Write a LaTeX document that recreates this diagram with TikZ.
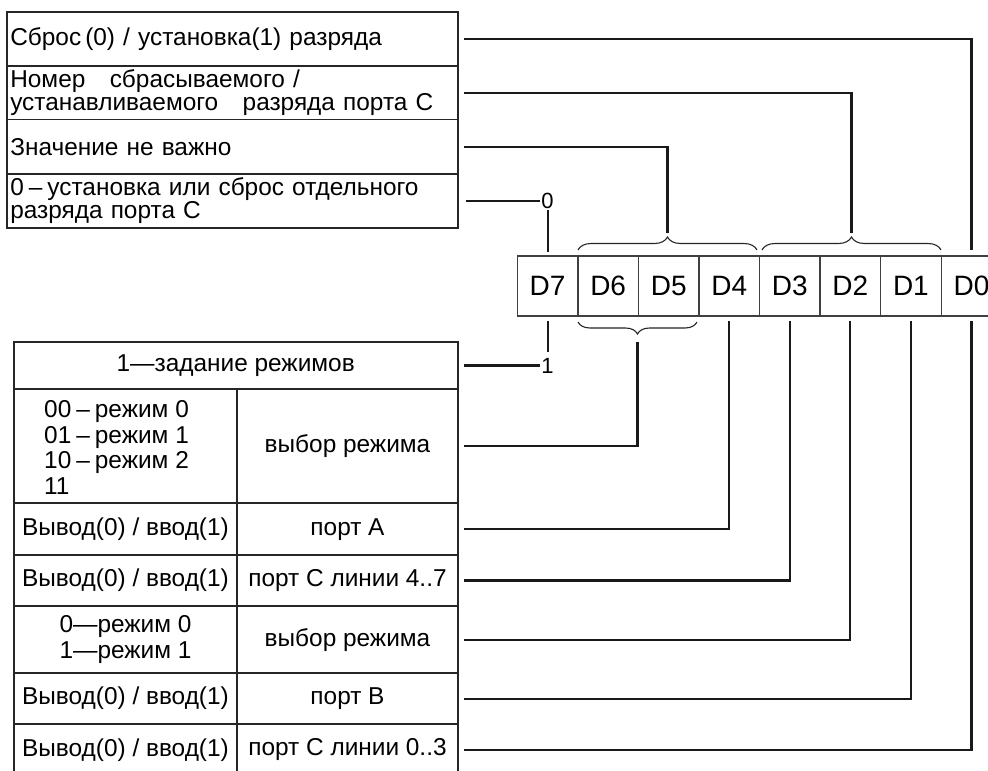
\documentclass[tikz,border=0pt]{standalone}
\usepackage{fontspec}
\setmainfont{Liberation Sans}
\usetikzlibrary{decorations.pathreplacing,calc}
\newcommand{\sdash}{\kern5pt–\kern5pt}
\begin{document}
\begin{tikzpicture}[x=1pt,y=-1pt,
  txt/.style={font=\fontsize{24.4}{23}\selectfont},
  cellbox/.style={draw=black!85, line width=1.7pt, inner sep=0pt, txt, align=center},
  toprow/.style={cellbox, text width=445pt, inner xsep=3pt, align=left},
  bitcell/.style={draw=black!75, line width=1.3pt, minimum width=60.55pt, minimum height=60pt, inner sep=0pt, font=\fontsize{28}{28}\selectfont},
  conn/.style={draw=black!90, line width=2.2pt},
  bitlbl/.style={inner sep=1pt, font=\fontsize{22}{22}\selectfont},
  bracedec/.style={draw=black!85, line width=1.1pt, decorate, decoration={brace, amplitude=#1}},
]
\useasboundingbox (0,0) rectangle (988,771);
\fill[white] (0,0) rectangle (988,771);
\clip (0,0) rectangle (988,771);

% top table
\node[toprow, minimum height=53.7pt] (t1) at (232.8,38.85) {Сброс\,(0) / установка(1) разряда};
\node[toprow, minimum height=53.8pt] (t2) at (232.8,92.6) {Номер\ \ \ сбрасываемого /\\устанавливаемого\ \ \ разряда порта С};
\node[toprow, minimum height=54.5pt] (t3) at (232.8,146.75) {Значение не важно};
\node[toprow, minimum height=54pt] (t4) at (232.8,201) {0\sdash установка или сброс отдельного\\разряда порта С};

% bottom table
\node[cellbox, minimum width=444pt, minimum height=47.6pt] (b1) at (235.7,365.5) {1—задание режимов};
\node[cellbox, minimum width=223.6pt, minimum height=114pt] (l2) at (125.5,446.3) {};
\node[anchor=west, align=left, inner sep=0pt, font=\fontsize{24.4}{25.7}\selectfont] (l2t) at (44,447.5) {00\sdash режим 0\\01\sdash режим 1\\10\sdash режим 2\\11};
\node[cellbox, minimum width=220.4pt, minimum height=114pt] (r2) at (347.5,446.3) {выбор режима};
\node[cellbox, minimum width=223.6pt, minimum height=51.7pt] (l3) at (125.5,529.15) {Вывод(0) / ввод(1)};
\node[cellbox, minimum width=220.4pt, minimum height=51.7pt] (r3) at (347.5,529.15) {порт А};
\node[cellbox, minimum width=223.6pt, minimum height=51pt] (l4) at (125.5,580.5) {Вывод(0) / ввод(1)};
\node[cellbox, minimum width=220.4pt, minimum height=51pt] (r4) at (347.5,580.5) {порт С линии 4..7};
\node[cellbox, minimum width=223.6pt, minimum height=67.3pt, font=\fontsize{24.4}{26.7}\selectfont] (l5) at (125.5,639.65) {0—режим 0\\1—режим 1};
\node[cellbox, minimum width=220.4pt, minimum height=67.3pt] (r5) at (347.5,639.65) {выбор режима};
\node[cellbox, minimum width=223.6pt, minimum height=50.7pt] (l6) at (125.5,698.65) {Вывод(0) / ввод(1)};
\node[cellbox, minimum width=220.4pt, minimum height=50.7pt] (r6) at (347.5,698.65) {порт В};
\node[cellbox, minimum width=223.6pt, minimum height=52pt] (l7) at (125.5,750) {Вывод(0) / ввод(1)};
\node[cellbox, minimum width=220.4pt, minimum height=52pt] (r7) at (347.5,750) {порт С линии 0..3};

% bit cells
\foreach \n [count=\i from 0] in {7,6,5,4,3,2,1,0}
  \node[bitcell] (d\n) at ({547.6+60.55*\i},286) {D\n};

% braces
\draw[bracedec=13pt] (578,250) -- (757,250);
\draw[bracedec=13pt] (762,250) -- (941,250);
\draw[bracedec=12pt] (697,322) -- (578,322);
\coordinate (tipA) at (667.5,233);
\coordinate (tipB) at (851.5,233);
\coordinate (tipC) at (637.5,341.5);

% upper connectors
\draw[conn] ([xshift=5pt]t1.east) -| ([yshift=5pt]d0.north);
\draw[conn] ([xshift=5pt]t2.east) -| (tipB);
\draw[conn] ([xshift=5pt]t3.east) -| (tipA);
\node[bitlbl] (zero) at (547.6,201) {0};
\draw[conn] ([xshift=7pt]t4.east) -- (zero.west);
\draw[conn] (zero.south) -- ([yshift=3pt]d7.north);

% lower connectors
\node[bitlbl] (one) at (547.6,365.5) {1};
\draw[conn] ([xshift=5pt]b1.east) -- (one.west);
\draw[conn] ([yshift=-4pt]d7.south) -- ([yshift=5pt]one.north);
\draw[conn] (tipC) |- ([xshift=5pt]r2.east);
\draw[conn] ([yshift=-4pt]d4.south) |- ([xshift=5pt]r3.east);
\draw[conn] ([yshift=-4pt]d3.south) |- ([xshift=5pt]r4.east);
\draw[conn] ([yshift=-4pt]d2.south) |- ([xshift=5pt]r5.east);
\draw[conn] ([yshift=-4pt]d1.south) |- ([xshift=5pt]r6.east);
\draw[conn] ([yshift=-4pt]d0.south) |- ([xshift=5pt]r7.east);
\end{tikzpicture}
\end{document}
